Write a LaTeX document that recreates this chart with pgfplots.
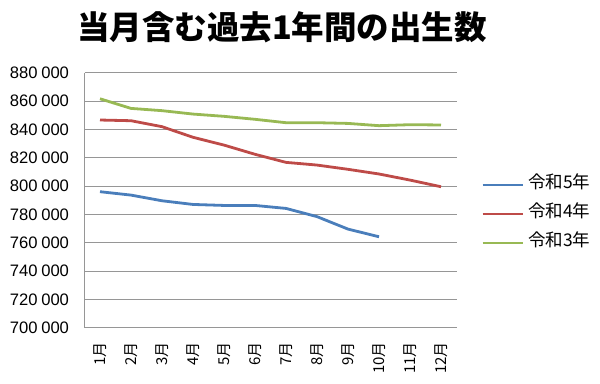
\documentclass[border=0pt]{standalone}
\usepackage{pgfplots}
\pgfplotsset{compat=1.18}
\usepackage{fontspec}
\setmainfont{Liberation Sans}
\newfontfamily\cjk{Noto Sans CJK JP}
\definecolor{s5}{RGB}{74,126,187}
\definecolor{s4}{RGB}{190,75,72}
\definecolor{s3}{RGB}{152,185,84}
\definecolor{gridc}{RGB}{150,150,150}
\begin{document}
\begin{tikzpicture}
\useasboundingbox (0,0) rectangle (600bp,384bp);
\node[font=\cjk\bfseries\fontsize{32.5bp}{34bp}\selectfont] at (282bp,357bp) {当月含む過去1年間の出生数};
\begin{axis}[
  at={(84.5bp,56.3bp)}, anchor=south west,
  scale only axis, width=372bp, height=255bp,
  xmin=0.5, xmax=12.5, ymin=700000, ymax=880000,
  xtick={1,2,3,4,5,6,7,8,9,10,11,12},
  xticklabels={1月,2月,3月,4月,5月,6月,7月,8月,9月,10月,11月,12月},
  ytick={700000,720000,740000,760000,780000,800000,820000,840000,860000,880000},
  scaled y ticks=false,
  /pgf/number format/assume math mode=true,
  /pgf/number format/fixed,
  /pgf/number format/1000 sep={\hspace{0.22em}},
  ymajorgrids, grid style={gridc, line width=0.8bp},
  axis x line*=bottom, axis y line*=left,
  axis line style={gridc, line width=0.8bp},
  major tick length=0pt,
  yticklabel style={font=\fontsize{16.6bp}{18bp}\selectfont, xshift=-12bp},
  xticklabel style={font=\cjk\fontsize{15bp}{16bp}\selectfont, rotate=90, anchor=east},
  xticklabel shift={11bp},
  legend style={draw=none, fill=none, at={(1.066,0.446)}, anchor=west, inner sep=0pt,
    row sep=11bp, column sep=2bp,
    nodes={font=\cjk\fontsize{17.5bp}{19bp}\selectfont, inner sep=2bp, text height=11bp, text depth=3bp}},
  legend cell align=left,
  legend image code/.code={\draw[#1, line width=2.8bp] (0bp,0bp) -- (40bp,0bp);},
]
\addplot[s5, line width=2.8bp, no markers, line join=round] coordinates {
(1,796000) (2,793600) (3,789600) (4,787000) (5,786300) (6,786300) (7,784200) (8,778400) (9,769600) (10,764200)};
\addlegendentry{令和5年}
\addplot[s4, line width=2.8bp, no markers, line join=round] coordinates {
(1,846600) (2,846100) (3,841900) (4,834400) (5,828900) (6,822400) (7,816700) (8,814800) (9,811800) (10,808500) (11,804200) (12,799500)};
\addlegendentry{令和4年}
\addplot[s3, line width=2.8bp, no markers, line join=round] coordinates {
(1,861600) (2,854800) (3,853200) (4,850800) (5,849200) (6,847100) (7,844700) (8,844700) (9,844200) (10,842600) (11,843300) (12,843100)};
\addlegendentry{令和3年}
\end{axis}
\end{tikzpicture}
\end{document}
